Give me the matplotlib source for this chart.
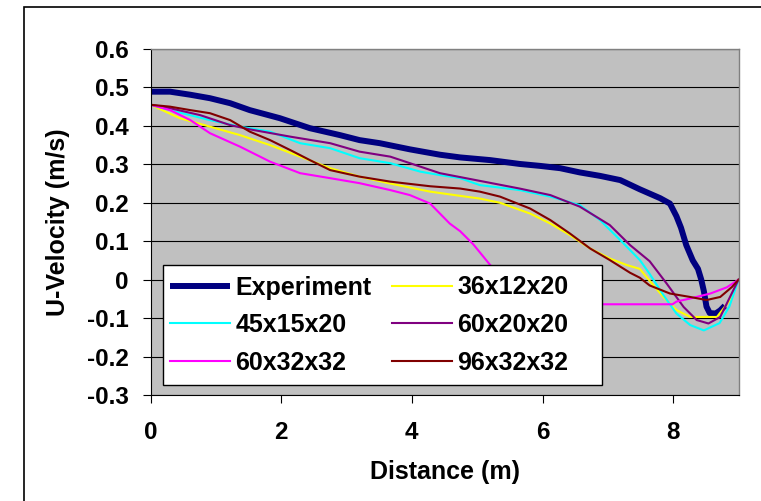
import matplotlib
matplotlib.use("Agg")
import matplotlib.pyplot as plt
from matplotlib.patches import Rectangle

plt.rcParams['font.family'] = ['Liberation Sans', 'DejaVu Sans']
plt.rcParams['font.weight'] = 'bold'

# Experiment
exp_x = [0, 0.3, 0.61, 0.91, 1.22, 1.52, 1.98, 2.44, 2.9, 3.2, 3.51, 3.97, 4.43, 4.74,
         5.2, 5.65, 5.96, 6.27, 6.57, 6.88, 7.19, 7.49, 7.8, 7.95, 8.05, 8.12, 8.2, 8.3,
         8.38, 8.43, 8.47, 8.51, 8.56, 8.65, 8.72, 8.79]
exp_y = [0.489, 0.489, 0.481, 0.472, 0.459, 0.441, 0.42, 0.394, 0.376, 0.363, 0.355, 0.339,
         0.325, 0.318, 0.311, 0.301, 0.296, 0.29, 0.279, 0.27, 0.259, 0.235, 0.212, 0.198,
         0.165, 0.135, 0.09, 0.05, 0.028, 0.0, -0.03, -0.07, -0.087, -0.088, -0.08, -0.068]

# 36x12x20
m1_x = [0, 0.45, 0.91, 1.37, 1.83, 2.29, 2.75, 3.2, 3.67, 4.28, 4.74, 5.04, 5.35, 5.81,
        6.12, 6.42, 6.73, 7.03, 7.29, 7.49, 7.65, 7.85, 8.05, 8.26, 8.67, 8.87, 9]
m1_y = [0.455, 0.42, 0.398, 0.376, 0.35, 0.32, 0.29, 0.268, 0.25, 0.229, 0.218, 0.211, 0.2,
        0.172, 0.146, 0.116, 0.081, 0.055, 0.038, 0.028, -0.005, -0.045, -0.079, -0.097,
        -0.097, -0.053, 0]

# 45x15x20
m2_x = [0, 0.3, 0.91, 1.37, 1.83, 2.29, 2.75, 3.2, 3.67, 4.13, 4.43, 4.74, 5.04, 5.65,
        6.12, 6.57, 6.88, 7.19, 7.49, 7.64, 7.85, 8.05, 8.26, 8.47, 8.71, 8.86, 9]
m2_y = [0.455, 0.441, 0.415, 0.398, 0.385, 0.355, 0.342, 0.316, 0.303, 0.281, 0.272, 0.264,
        0.246, 0.233, 0.216, 0.194, 0.155, 0.103, 0.051, 0.015, -0.04, -0.088, -0.118,
        -0.132, -0.113, -0.07, 0]

# 60x20x20
m3_x = [0, 0.3, 0.76, 1.22, 1.52, 2.14, 2.75, 3.2, 3.67, 4.13, 4.43, 5.04, 5.65, 6.12,
        6.57, 7.03, 7.34, 7.64, 7.9, 8.16, 8.36, 8.54, 8.72, 8.87, 9]
m3_y = [0.455, 0.446, 0.428, 0.402, 0.391, 0.372, 0.355, 0.333, 0.32, 0.294, 0.277, 0.257,
        0.237, 0.22, 0.19, 0.142, 0.09, 0.048, -0.01, -0.071, -0.105, -0.114, -0.097,
        -0.045, 0]

# 60x32x32
m4_x = [0, 0.3, 0.61, 0.91, 1.37, 1.83, 2.29, 2.75, 3.2, 3.67, 3.97, 4.28, 4.58, 4.74,
        4.94, 5.2, 5.45, 5.75, 6.05, 6.5, 6.91, 7.99, 8.05, 8.26, 8.57, 8.82, 9]
m4_y = [0.455, 0.441, 0.415, 0.381, 0.346, 0.307, 0.277, 0.264, 0.251, 0.233, 0.22, 0.198,
        0.146, 0.126, 0.092, 0.038, -0.01, -0.045, -0.062, -0.064, -0.064, -0.064, -0.057,
        -0.049, -0.036, -0.02, 0]

# 96x32x32
m5_x = [0, 0.3, 0.61, 0.91, 1.22, 1.52, 1.83, 2.14, 2.44, 2.75, 3.2, 3.67, 4.28, 4.74,
        5.04, 5.35, 5.81, 6.12, 6.42, 6.73, 7.03, 7.34, 7.49, 7.64, 7.95, 8.26, 8.51, 8.72,
        8.9, 9]
m5_y = [0.455, 0.45, 0.441, 0.433, 0.415, 0.385, 0.363, 0.337, 0.311, 0.285, 0.268, 0.255,
        0.243, 0.237, 0.229, 0.216, 0.185, 0.155, 0.12, 0.081, 0.051, 0.018, 0.005, -0.015,
        -0.036, -0.045, -0.053, -0.045, -0.019, 0]

fig = plt.figure(figsize=(7.61, 5.01), dpi=100)
ax = fig.add_axes([150.5 / 761, 106 / 501, 588 / 761, 346 / 501])
ax.set_facecolor('#C0C0C0')

h_exp, = ax.plot(exp_x, exp_y, color='#000080', lw=4.3, label='Experiment', solid_capstyle='butt')
h1, = ax.plot(m1_x, m1_y, color='#FFFF00', lw=1.5, label='36x12x20')
h2, = ax.plot(m2_x, m2_y, color='#00FFFF', lw=1.5, label='45x15x20')
h3, = ax.plot(m3_x, m3_y, color='#800080', lw=1.5, label='60x20x20')
h4, = ax.plot(m4_x, m4_y, color='#FF00FF', lw=1.5, label='60x32x32')
h5, = ax.plot(m5_x, m5_y, color='#800000', lw=1.5, label='96x32x32')

ax.set_xlim(0, 9)
ax.set_ylim(-0.3, 0.6)
ax.set_xticks([0, 2, 4, 6, 8])
ax.set_yticks([-0.3, -0.2, -0.1, 0, 0.1, 0.2, 0.3, 0.4, 0.5, 0.6])
ax.set_yticklabels(['-0.3', '-0.2', '-0.1', '0', '0.1', '0.2', '0.3', '0.4', '0.5', '0.6'])
ax.grid(axis='y', color='black', lw=0.8)
ax.set_axisbelow(True)
ax.tick_params(axis='both', labelsize=17.5, length=6, width=0.8, direction='out')
ax.tick_params(axis='x', pad=13)
ax.tick_params(axis='y', pad=9.5)
for side in ['left', 'bottom']:
    ax.spines[side].set_color('black')
    ax.spines[side].set_linewidth(0.8)
for side in ['right', 'top']:
    ax.spines[side].set_color('#808080')
    ax.spines[side].set_linewidth(1.0)

ax.set_xlabel('Distance (m)', fontsize=18, fontweight='bold', labelpad=11)
ax.set_ylabel('U-Velocity (m/s)', fontsize=18, fontweight='bold', labelpad=12)

# legend box drawn separately so its size matches the original
box = Rectangle(((162.7 - 150.5) / 588, (395 - 385) / 346), (602 - 162.7) / 588, 120 / 346,
                transform=ax.transAxes, facecolor='white', edgecolor='black', lw=1.0, zorder=4)
ax.add_patch(box)
leg = ax.legend([h_exp, h2, h4, h1, h3, h5],
                ['Experiment', '45x15x20', '60x32x32', '36x12x20', '60x20x20', '96x32x32'],
                ncol=2, loc='upper left', bbox_to_anchor=((162.7 - 150.5) / 588, (395 - 268) / 346),
                borderaxespad=0, borderpad=0.3, frameon=False, fontsize=18,
                handlelength=2.4, handletextpad=0.2, columnspacing=0.83, labelspacing=0.54)
leg.set_zorder(5)

# outer frame of the chart (top and left edges visible)
fig.add_artist(Rectangle((24 / 761, -0.1), 2, (494 / 501) + 0.1, transform=fig.transFigure,
                         fill=False, edgecolor='black', lw=1.2))

fig.savefig('out.png', dpi=100)
